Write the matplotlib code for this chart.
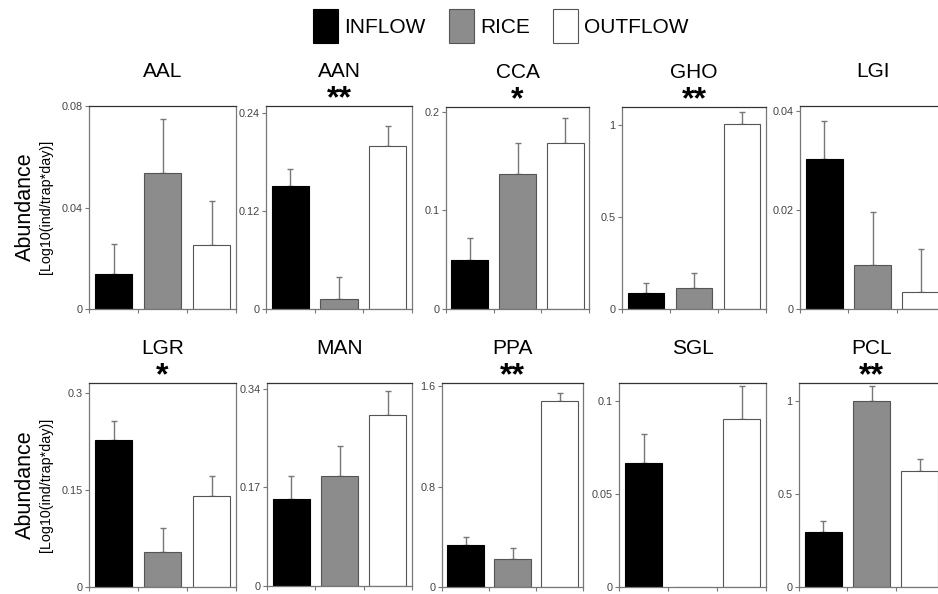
import matplotlib
matplotlib.use("Agg")
import matplotlib.pyplot as plt
from matplotlib.patches import Patch
import numpy as np

plt.rcParams['font.family'] = ['Liberation Sans', 'DejaVu Sans']

# data
groups = ['INFLOW', 'RICE', 'OUTFLOW']
species = ['AAL', 'AAN', 'CCA', 'GHO', 'LGI', 'LGR', 'MAN', 'PPA', 'SGL', 'PCL']
stars = ['', '**', '*', '**', '', '*', '', '**', '', '**']

means = [
    [0.0136, 0.0536, 0.0254],
    [0.1505, 0.0119, 0.2003],
    [0.0493, 0.1370, 0.1684],
    [0.086, 0.112, 1.009],
    [0.0302, 0.0088, 0.0035],
    [0.227, 0.0533, 0.140],
    [0.150, 0.1905, 0.2956],
    [0.335, 0.226, 1.483],
    [0.0665, 0.0, 0.0903],
    [0.298, 1.002, 0.623],
]
errs = [
    [0.0120, 0.0213, 0.0172],
    [0.0217, 0.0278, 0.0237],
    [0.0228, 0.0310, 0.0256],
    [0.057, 0.084, 0.062],
    [0.0078, 0.0107, 0.0087],
    [0.029, 0.0372, 0.032],
    [0.039, 0.0502, 0.0409],
    [0.061, 0.085, 0.064],
    [0.0157, 0.0, 0.0176],
    [0.056, 0.077, 0.063],
]
yticks = [
    [0, 0.04, 0.08], [0, 0.12, 0.24], [0, 0.1, 0.2], [0, 0.5, 1], [0, 0.02, 0.04],
    [0, 0.15, 0.3], [0, 0.17, 0.34], [0, 0.8, 1.6], [0, 0.05, 0.1], [0, 0.5, 1],
]
ytick_labels = [
    ['0', '0.04', '0.08'], ['0', '0.12', '0.24'], ['0', '0.1', '0.2'], ['0', '0.5', '1'],
    ['0', '0.02', '0.04'], ['0', '0.15', '0.3'], ['0', '0.17', '0.34'], ['0', '0.8', '1.6'],
    ['0', '0.05', '0.1'], ['0', '0.5', '1'],
]
ymax = [0.08, 0.249, 0.205, 1.10, 0.041, 0.315, 0.350, 1.624, 0.1097, 1.097]

colors = ['black', '#8c8c8c', 'white']
edges = ['black', '#555555', '#555555']

# panel boxes in pixels: left, top, width, height
W, H = 938, 594
boxes = [
    (89, 106, 147, 203), (266, 106, 146, 203), (446, 107, 143, 202), (622, 107, 144, 202), (800, 106, 145, 203),
    (89, 383, 147, 204), (267, 383, 145, 203), (442, 383, 141, 204), (619, 383, 147, 204), (799, 383, 145, 204),
]

fig = plt.figure(figsize=(W / 100, H / 100), dpi=100)

x = np.arange(3)
for i, name in enumerate(species):
    l, t, w, h = boxes[i]
    ax = fig.add_axes([l / W, (H - t - h) / H, w / W, h / H])
    ax.bar(x, means[i], width=0.77, color=colors, edgecolor=edges, linewidth=0.8, zorder=2)
    for j in range(3):
        if means[i][j] > 0:
            ax.errorbar(x[j], means[i][j], yerr=[[0], [errs[i][j]]], fmt='none',
                        ecolor='#777777', elinewidth=1, capsize=2.5, capthick=1, zorder=1)
    ax.set_xlim(-0.5, 2.5)
    ax.set_ylim(0, ymax[i])
    ax.set_xticks([-0.5, 0.5, 1.5, 2.5])
    ax.set_xticklabels([])
    ax.set_yticks(yticks[i])
    ax.set_yticklabels(ytick_labels[i])
    ax.tick_params(axis='both', direction='out', length=3, width=0.8, color='#777777',
                   labelsize=7.8, labelcolor='#444444', pad=1.5)
    for s in ['left', 'bottom', 'right']:
        ax.spines[s].set_color('#777777')
        ax.spines[s].set_linewidth(0.9)
    ax.spines['top'].set_color('#333333')
    ax.spines['top'].set_linewidth(0.9)
    ax.annotate(name, xy=(0.5, 1), xycoords='axes fraction', xytext=(0, 24.5),
                textcoords='offset points', ha='center', va='center', fontsize=15)
    if stars[i]:
        ax.annotate(stars[i], xy=(0.5, 1), xycoords='axes fraction', xytext=(0, 5),
                    textcoords='offset points', ha='center', va='center',
                    fontsize=23, fontweight='bold')

for yc in [207, 485]:
    fig.text(25 / W, 1 - yc / H, 'Abundance', rotation=90, ha='center', va='center', fontsize=15.5)
    fig.text(46 / W, 1 - yc / H, '[Log10(ind/trap*day)]', rotation=90, ha='center', va='center',
             fontsize=10.3)

handles = [Patch(facecolor=c, edgecolor=e, linewidth=0.8) for c, e in zip(colors, edges)]
fig.legend(handles, groups, loc='center', bbox_to_anchor=(501 / W, 1 - 26 / H), ncol=3,
           frameon=False, fontsize=15, handlelength=1.2, handleheight=2.1,
           handletextpad=0.3, columnspacing=1.1, borderpad=0)

fig.savefig('out.png', dpi=100)
